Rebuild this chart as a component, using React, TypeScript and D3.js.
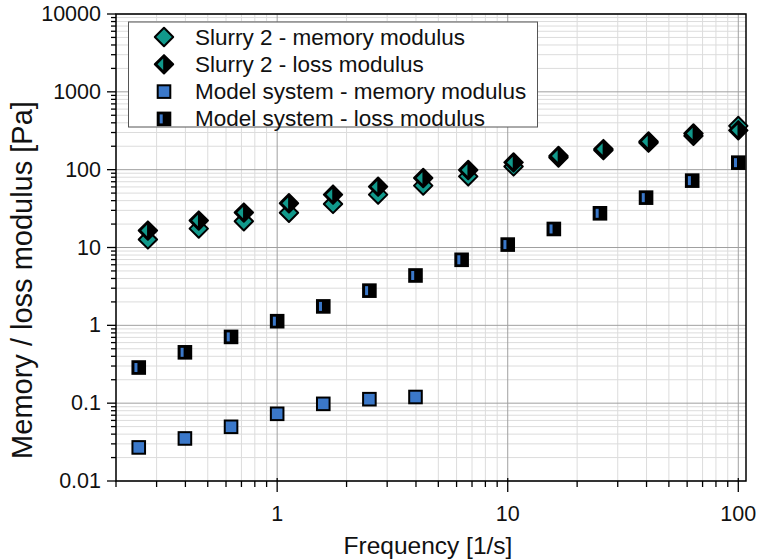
import React from "react";
import * as d3 from "d3";

const modelFreq = [0.251, 0.398, 0.631, 1, 1.585, 2.512, 3.981, 6.31, 10, 15.85, 25.12, 39.81, 63.1, 100];
const modelLoss = [0.287, 0.45, 0.71, 1.13, 1.75, 2.79, 4.37, 6.95, 10.9, 17.3, 27.5, 43.7, 72.3, 123];
const modelMemFreq = [0.251, 0.398, 0.631, 1, 1.585, 2.512, 3.981];
const modelMemory = [0.027, 0.0352, 0.0497, 0.073, 0.098, 0.1125, 0.12];

const slurryFreq = [0.275, 0.457, 0.717, 1.125, 1.747, 2.74, 4.3, 6.74, 10.6, 16.6, 26, 40.8, 63.9, 100];
const slurryMemory = [12.7, 17.5, 21.7, 27.9, 36.3, 47.8, 62.4, 82, 110, 143, 178, 222, 272, 365];
const slurryLoss = [16.5, 22.2, 28.1, 37, 47.8, 60.5, 78.2, 99, 124, 150, 184, 230, 292, 320];

const xTickLabels = [1, 10, 100];
const yTickLabels = [0.01, 0.1, 1, 10, 100, 1000, 10000];
const legendLabels = [
  "Slurry 2 - memory modulus",
  "Slurry 2 - loss modulus",
  "Model system - memory modulus",
  "Model system - loss modulus",
];

const TEAL = "#11998b";
const BLUE = "#3b78c9";
const FONT = "'Liberation Sans', Arial, sans-serif";

const L = 116, R = 746, T = 14, B = 481;

function Diamond({ cx, cy, half }: { cx: number; cy: number; half: boolean }) {
  const s = 9.2;
  const pts = `${cx - s},${cy} ${cx},${cy - s} ${cx + s},${cy} ${cx},${cy + s}`;
  if (!half) {
    return <polygon points={pts} fill={TEAL} stroke="#000" strokeWidth={2} strokeLinejoin="round" />;
  }
  return (
    <g>
      <polygon points={pts} fill="#000" stroke="#000" strokeWidth={2} strokeLinejoin="round" />
      <polygon points={`${cx - 6.5},${cy} ${cx - 0.8},${cy - 5.7} ${cx - 0.8},${cy + 5.7}`} fill={TEAL} />
    </g>
  );
}

function Square({ cx, cy, half }: { cx: number; cy: number; half: boolean }) {
  const s = 6.3;
  if (!half) {
    return <rect x={cx - s} y={cy - s} width={2 * s} height={2 * s} fill={BLUE} stroke="#000" strokeWidth={2} />;
  }
  return (
    <g>
      <rect x={cx - s} y={cy - s} width={2 * s} height={2 * s} fill="#000" stroke="#000" strokeWidth={2} />
      <rect x={cx - 4.3} y={cy - 4.5} width={3} height={9} fill={BLUE} />
    </g>
  );
}

export default function App() {
  const x = d3.scaleLog().domain([0.2, 108]).range([L, R]);
  const y = d3.scaleLog().domain([0.01, 10000]).range([B, T]);

  const xAll = x.ticks();
  const yAll = y.ticks();
  const isDecade = (v: number) => Math.abs(Math.log10(v) - Math.round(Math.log10(v))) < 1e-9;

  return (
    <svg width={757} height={559} style={{ position: "absolute", left: 0, top: 0, background: "#fff" }} fontFamily={FONT}>
      <rect x={0} y={0} width={757} height={559} fill="#fff" />
      {/* minor gridlines */}
      {xAll.filter((v) => !isDecade(v)).map((v, i) => (
        <line key={"gxm" + i} x1={x(v)} x2={x(v)} y1={T} y2={B} stroke="#dcdcdc" strokeWidth={1} />
      ))}
      {yAll.filter((v) => !isDecade(v)).map((v, i) => (
        <line key={"gym" + i} x1={L} x2={R} y1={y(v)} y2={y(v)} stroke="#dcdcdc" strokeWidth={1} />
      ))}
      {/* major gridlines */}
      {xTickLabels.map((v, i) => (
        <line key={"gxM" + i} x1={x(v)} x2={x(v)} y1={T} y2={B} stroke="#a0a0a0" strokeWidth={1} />
      ))}
      {yTickLabels.map((v, i) => (
        <line key={"gyM" + i} x1={L} x2={R} y1={y(v)} y2={y(v)} stroke="#a0a0a0" strokeWidth={1} />
      ))}

      {/* frame */}
      <rect x={L} y={T} width={R - L} height={B - T} fill="none" stroke="#000" strokeWidth={1.5} />

      {/* y ticks */}
      {yAll.map((v, i) => (
        <line key={"ty" + i} x1={L - (isDecade(v) ? 9 : 5)} x2={L} y1={y(v)} y2={y(v)} stroke="#000" strokeWidth={1.3} />
      ))}
      {yTickLabels.map((v, i) => (
        <text key={"ly" + i} x={101} y={y(v)} textAnchor="end" dominantBaseline="central" fontSize={21.5} fill="#111">
          {String(v)}
        </text>
      ))}
      {/* x ticks */}
      {xAll.map((v, i) => (
        <line key={"tx" + i} x1={x(v)} x2={x(v)} y1={isDecade(v) ? B - 3 : B} y2={B + (isDecade(v) ? 11 : 6)} stroke="#000" strokeWidth={1.3} />
      ))}
      {xTickLabels.map((v, i) => (
        <text key={"lx" + i} x={x(v)} y={514} textAnchor="middle" dominantBaseline="central" fontSize={21.5} fill="#111">
          {String(v)}
        </text>
      ))}

      {/* titles */}
      <text x={428} y={545} textAnchor="middle" dominantBaseline="central" fontSize={24.5} fill="#111">
        Frequency [1/s]
      </text>
      <text transform={`translate(22,280) rotate(-90)`} textAnchor="middle" dominantBaseline="central" fontSize={29} fill="#111">
        Memory / loss modulus [Pa]
      </text>

      {/* data */}
      {modelMemFreq.map((f, i) => (
        <Square key={"mm" + i} cx={x(f)} cy={y(modelMemory[i])} half={false} />
      ))}
      {modelFreq.map((f, i) => (
        <Square key={"ml" + i} cx={x(f)} cy={y(modelLoss[i])} half={true} />
      ))}
      {slurryFreq.map((f, i) => (
        <Diamond key={"sm" + i} cx={x(f)} cy={y(slurryMemory[i])} half={false} />
      ))}
      {slurryFreq.map((f, i) => (
        <Diamond key={"sl" + i} cx={x(f)} cy={y(slurryLoss[i])} half={true} />
      ))}

      {/* legend */}
      <rect x={128.5} y={22} width={409} height={105} fill="#fff" stroke="#555" strokeWidth={1} />
      {legendLabels.map((lab, i) => {
        const cy = 37 + i * 27.3;
        return (
          <g key={"lg" + i}>
            {i < 2 ? <Diamond cx={164} cy={cy} half={i === 1} /> : <Square cx={164} cy={cy} half={i === 3} />}
            <text x={195} y={cy} dominantBaseline="central" fontSize={22.5} fill="#111">
              {lab}
            </text>
          </g>
        );
      })}
    </svg>
  );
}
